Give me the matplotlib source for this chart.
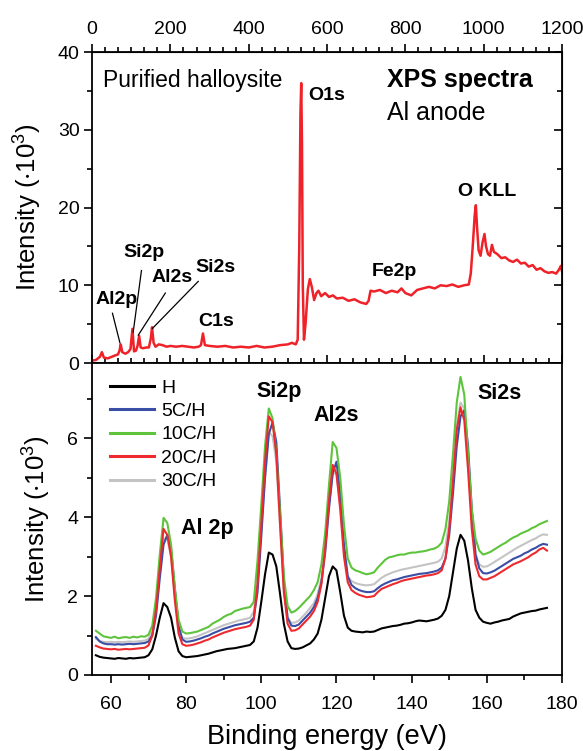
import matplotlib
matplotlib.use("Agg")
import matplotlib.pyplot as plt
import numpy as np
from matplotlib.ticker import MultipleLocator

plt.rcParams['font.family'] = ['Liberation Sans', 'DejaVu Sans']
plt.rcParams['mathtext.fontset'] = 'custom'
plt.rcParams['mathtext.rm'] = 'Liberation Sans'
plt.rcParams['mathtext.default'] = 'regular'

# survey spectrum (binding energy in eV, intensity in 10^3 counts)
survey_be = [0, 10, 20, 25, 30, 40, 50, 60, 66, 70, 73, 77, 85, 92, 98, 103, 107, 112,
             116, 120, 124, 130, 138, 145, 150, 153, 157, 162, 170, 180, 190, 200, 215,
             230, 245, 260, 272, 278, 283, 288, 300, 320, 340, 360, 380, 400, 420, 440,
             460, 480, 500, 510, 520, 525, 529, 532, 534, 536, 538, 541, 545, 551, 556,
             561, 567, 573, 578, 585, 595, 605, 615, 625, 640, 655, 670, 685, 700, 706,
             711, 720, 735, 750, 765, 780, 790, 800, 815, 830, 845, 860, 875, 890, 905,
             920, 935, 950, 962, 967, 972, 977, 980, 983, 987, 992, 997, 1002, 1006,
             1011, 1016, 1021, 1026, 1035, 1045, 1055, 1065, 1075, 1085, 1095, 1105,
             1115, 1125, 1135, 1145, 1155, 1165, 1175, 1185, 1192, 1197, 1200]
survey_int = [0.3, 0.4, 0.8, 1.4, 0.7, 0.6, 0.8, 1.0, 1.1, 1.6, 2.4, 1.4, 1.2, 1.4, 1.8, 4.4,
              1.5, 1.6, 2.2, 3.5, 2.0, 1.9, 2.0, 2.0, 3.2, 4.6, 2.6, 2.1, 2.4, 2.3, 2.1, 2.2,
              2.1, 2.2, 2.1, 2.0, 2.1, 2.3, 3.8, 2.3, 2.2, 2.1, 2.2, 2.0, 2.1, 2.0, 2.2, 2.0,
              2.1, 2.3, 2.4, 2.6, 2.4, 3.0, 15.0, 32.0, 36.0, 28.0, 10.0, 3.0, 5.0, 9.5,
              10.8, 9.8, 8.1, 9.0, 9.3, 8.6, 9.0, 8.5, 8.7, 8.3, 8.4, 8.0, 8.2, 7.8, 7.6,
              8.0, 9.3, 9.2, 9.4, 9.0, 9.3, 9.1, 9.6, 9.0, 8.7, 9.4, 9.6, 9.8, 9.6, 10.0,
              9.9, 10.1, 9.8, 10.0, 10.1, 11.5, 15.0, 19.0, 20.3, 17.5, 14.5, 13.8, 15.5,
              16.6, 15.0, 14.0, 13.8, 15.2, 14.3, 14.0, 13.5, 13.6, 13.2, 13.0, 13.3, 12.8,
              12.9, 12.4, 12.6, 12.0, 12.2, 11.8, 11.6, 11.7, 11.5, 12.0, 12.5, 11.8]

# peak labels of the survey: text, text position, end of leader line
survey_labels = ['O1s', 'O KLL', 'Fe2p', 'C1s', 'Si2s', 'Al2s', 'Si2p', 'Al2p']
survey_label_xy = [(600, 34.4), (1009, 22.1), (773, 11.8), (316, 5.3),
                   (316, 12.3), (205, 11.0), (132, 14.2), (62, 8.2)]
leader_lines = {'Al2p': ((52, 6.4), (71, 2.6)),
                'Si2p': ((126, 11.9), (105, 4.0)),
                'Al2s': ((187, 9.0), (118, 3.6)),
                'Si2s': ((271, 10.5), (154, 4.45))}

# high resolution region, 1 eV steps
hr_be = list(range(56, 177))

int_H = [0.5, 0.46, 0.44, 0.43, 0.42, 0.41, 0.43, 0.42, 0.41, 0.43, 0.42, 0.43, 0.44, 0.45,
         0.5, 0.65, 1.0, 1.45, 1.82, 1.72, 1.45, 0.95, 0.6, 0.48, 0.45, 0.46, 0.47, 0.48,
         0.5, 0.52, 0.54, 0.57, 0.6, 0.62, 0.64, 0.66, 0.67, 0.68, 0.7, 0.72, 0.74, 0.76,
         0.85, 1.2, 1.85, 2.55, 3.1, 3.05, 2.75, 2.05, 1.3, 0.85, 0.68, 0.66, 0.67, 0.7,
         0.75, 0.8, 0.9, 1.05, 1.4, 1.95, 2.5, 2.75, 2.65, 2.1, 1.5, 1.2, 1.12, 1.1, 1.09,
         1.08, 1.1, 1.09, 1.1, 1.14, 1.18, 1.2, 1.22, 1.24, 1.25, 1.27, 1.3, 1.31, 1.33,
         1.36, 1.38, 1.37, 1.36, 1.38, 1.4, 1.43, 1.5, 1.65, 2.0, 2.6, 3.2, 3.55, 3.4, 2.9,
         2.2, 1.65, 1.45, 1.35, 1.32, 1.3, 1.33, 1.35, 1.38, 1.4, 1.42, 1.48, 1.52, 1.56,
         1.58, 1.6, 1.62, 1.63, 1.66, 1.68, 1.7]
int_5C = [0.96, 0.85, 0.8, 0.78, 0.78, 0.77, 0.78, 0.77, 0.78, 0.79, 0.78, 0.79, 0.8, 0.81,
          0.85, 1.0, 1.5, 2.45, 3.3, 3.55, 3.2, 2.2, 1.25, 0.9, 0.84, 0.85, 0.87, 0.9, 0.93,
          0.97, 1.0, 1.05, 1.09, 1.13, 1.17, 1.2, 1.23, 1.26, 1.28, 1.3, 1.32, 1.35, 1.45,
          2.1, 3.5, 5.0, 6.1, 6.4, 5.9, 4.2, 2.4, 1.45, 1.25, 1.24, 1.28, 1.38, 1.48, 1.58,
          1.72, 1.95, 2.35, 3.1, 4.2, 5.1, 5.4, 4.6, 3.3, 2.5, 2.28, 2.2, 2.15, 2.12, 2.1,
          2.1, 2.12, 2.2, 2.27, 2.32, 2.36, 2.4, 2.42, 2.45, 2.48, 2.5, 2.52, 2.54, 2.56,
          2.57, 2.58, 2.6, 2.62, 2.65, 2.72, 2.95, 3.55, 4.6, 5.8, 6.55, 6.7, 5.8, 4.2, 3.05,
          2.7, 2.58, 2.57, 2.6, 2.64, 2.7, 2.76, 2.82, 2.88, 2.94, 2.98, 3.02, 3.08, 3.12,
          3.18, 3.22, 3.28, 3.32, 3.3]
int_10C = [1.12, 1.05, 0.98, 0.96, 0.94, 0.97, 0.93, 0.95, 0.96, 0.94, 0.97, 0.95, 0.98,
           0.97, 1.02, 1.25, 1.95, 3.05, 3.98, 3.85, 3.3, 2.2, 1.4, 1.1, 1.05, 1.06, 1.08,
           1.1, 1.14, 1.18, 1.22, 1.3, 1.35, 1.4, 1.47, 1.52, 1.55, 1.62, 1.65, 1.68, 1.7,
           1.72, 1.85, 2.9, 4.3, 5.8, 6.75, 6.5, 5.6, 4.1, 2.5, 1.75, 1.58, 1.62, 1.7, 1.8,
           1.9, 2.0, 2.15, 2.35, 2.8, 3.6, 4.8, 5.9, 5.75, 5.0, 3.8, 2.95, 2.72, 2.65, 2.62,
           2.58, 2.55, 2.57, 2.6, 2.72, 2.82, 2.92, 2.98, 3.0, 3.03, 3.05, 3.05, 3.08, 3.1,
           3.1, 3.12, 3.13, 3.15, 3.18, 3.2, 3.25, 3.35, 3.7, 4.4, 5.6, 6.9, 7.55, 7.1, 5.6,
           4.2, 3.45, 3.15, 3.05, 3.08, 3.12, 3.18, 3.24, 3.3, 3.35, 3.42, 3.48, 3.52, 3.58,
           3.62, 3.66, 3.72, 3.76, 3.82, 3.86, 3.9]
int_20C = [0.74, 0.7, 0.67, 0.66, 0.65, 0.66, 0.64, 0.65, 0.66, 0.65, 0.66, 0.67, 0.68,
           0.69, 0.75, 1.0, 1.65, 2.7, 3.7, 3.55, 3.0, 1.9, 1.05, 0.78, 0.74, 0.75, 0.77,
           0.8, 0.83, 0.87, 0.9, 0.95, 0.99, 1.03, 1.07, 1.1, 1.13, 1.16, 1.18, 1.2, 1.22,
           1.25, 1.4, 2.3, 3.8, 5.4, 6.55, 6.4, 5.6, 3.8, 2.1, 1.3, 1.12, 1.13, 1.18, 1.28,
           1.38, 1.48, 1.62, 1.85, 2.3, 3.2, 4.4, 5.32, 5.1, 4.2, 3.0, 2.35, 2.15, 2.08, 2.03,
           2.0, 1.97, 1.98, 2.0, 2.1, 2.18, 2.22, 2.26, 2.3, 2.33, 2.37, 2.4, 2.42, 2.44,
           2.46, 2.48, 2.5, 2.52, 2.53, 2.55, 2.58, 2.65, 2.95, 3.7, 4.9, 6.2, 6.78, 6.45, 5.2,
           3.7, 2.8, 2.5, 2.42, 2.42, 2.46, 2.5, 2.56, 2.62, 2.68, 2.74, 2.8, 2.84, 2.88,
           2.93, 2.98, 3.05, 3.1, 3.18, 3.22, 3.15]
int_30C = [0.92, 0.86, 0.84, 0.83, 0.84, 0.83, 0.84, 0.83, 0.84, 0.85, 0.84, 0.85, 0.86,
           0.87, 0.92, 1.1, 1.7, 2.65, 3.45, 3.45, 3.0, 2.0, 1.15, 0.94, 0.92, 0.93, 0.95,
           0.98, 1.02, 1.06, 1.1, 1.14, 1.18, 1.22, 1.26, 1.29, 1.32, 1.35, 1.38, 1.4, 1.42,
           1.45, 1.6, 2.4, 3.7, 5.0, 6.15, 6.05, 5.4, 3.8, 2.2, 1.45, 1.32, 1.33, 1.38, 1.48,
           1.58, 1.7, 1.82, 2.05, 2.45, 3.2, 4.3, 5.1, 5.1, 4.3, 3.1, 2.5, 2.38, 2.33, 2.3,
           2.28, 2.27, 2.28, 2.3, 2.38, 2.46, 2.52, 2.56, 2.6, 2.63, 2.66, 2.68, 2.7, 2.72,
           2.74, 2.76, 2.78, 2.8, 2.82, 2.84, 2.87, 2.95, 3.25, 3.9, 5.0, 6.3, 6.9, 6.75, 5.5,
           3.95, 3.05, 2.8, 2.74, 2.75, 2.8, 2.86, 2.92, 2.98, 3.04, 3.1, 3.16, 3.22, 3.27,
           3.32, 3.37, 3.42, 3.46, 3.52, 3.56, 3.55]

series_names = ['H', '5C/H', '10C/H', '20C/H', '30C/H']
series_colors = ['black', '#3b4ea6', '#5dc43c', '#ee2a2e', '#c4c4c4']
series_data = [int_H, int_5C, int_10C, int_20C, int_30C]

hr_labels = ['Al 2p', 'Si2p', 'Al2s', 'Si2s']
hr_label_xy = [(85.6, 3.72), (104.7, 7.17), (120.0, 6.58), (163.5, 7.14)]

fig = plt.figure(figsize=(5.83, 7.51), dpi=100)
ax1 = fig.add_axes([0.158, 0.5166, 0.806, 0.4141])
ax2 = fig.add_axes([0.158, 0.1012, 0.806, 0.4154])

for ax in (ax1, ax2):
    for sp in ax.spines.values():
        sp.set_linewidth(1.3)

# --- survey panel ---
ax1.plot(survey_be, survey_int, color='#ee2228', lw=1.8)
ax1.set_xlim(0, 1200)
ax1.set_ylim(0, 40)
ax1.set_xticks(np.arange(0, 1201, 200))
ax1.xaxis.set_minor_locator(MultipleLocator(200 / 6))
ax1.set_yticks(np.arange(0, 41, 10))
ax1.yaxis.set_minor_locator(MultipleLocator(5))
ax1.tick_params(axis='x', which='both', direction='in', labelbottom=False, width=1.2)
ax1.tick_params(axis='x', which='major', length=6)
ax1.tick_params(axis='x', which='minor', length=3.5)
ax1.tick_params(axis='y', which='both', direction='out', labelsize=14, width=1.2, pad=3)
ax1.tick_params(axis='y', which='major', length=6)
ax1.tick_params(axis='y', which='minor', length=3.5)

top = ax1.secondary_xaxis('top')
top.set_xticks(np.arange(0, 1201, 200))
top.xaxis.set_minor_locator(MultipleLocator(200 / 6))
top.tick_params(which='both', direction='out', labelsize=14, width=1.2, pad=4)
top.tick_params(which='major', length=6)
top.tick_params(which='minor', length=3.5)

right = ax1.secondary_yaxis('right')
right.set_yticks(np.arange(0, 41, 10))
right.yaxis.set_minor_locator(MultipleLocator(5))
right.tick_params(which='both', direction='in', labelright=False, width=1.2)
right.tick_params(which='major', length=6)
right.tick_params(which='minor', length=3.5)

ax1.set_ylabel(r'Intensity ($\cdot$10$^3$)', fontsize=18.5, labelpad=10)

ax1.text(28, 36.4, 'Purified halloysite', fontsize=16.5, va='center', ha='left')
ax1.text(753, 36.4, 'XPS spectra', fontsize=18, fontweight='bold', va='center', ha='left')
ax1.text(753, 32.2, 'Al anode', fontsize=18, va='center', ha='left')

for lab, (lx, ly) in zip(survey_labels, survey_label_xy):
    ax1.text(lx, ly, lab, fontsize=14, fontweight='bold', ha='center', va='center')
for lab, ((x0, y0), (x1, y1)) in leader_lines.items():
    ax1.plot([x0, x1], [y0, y1], color='black', lw=0.9)

# --- high resolution panel ---
order = [4, 0, 1, 2, 3]
handles = {}
for i in order:
    line, = ax2.plot(hr_be, series_data[i], color=series_colors[i], lw=1.5,
                     label=series_names[i])
    handles[i] = line

ax2.set_xlim(55, 180)
ax2.set_ylim(0, 7.9)
ax2.set_xticks(np.arange(60, 181, 20))
ax2.xaxis.set_minor_locator(MultipleLocator(10))
ax2.set_yticks(np.arange(0, 7, 2))
ax2.yaxis.set_minor_locator(MultipleLocator(1))
ax2.tick_params(which='both', direction='out', labelsize=14, width=1.2)
ax2.tick_params(axis='x', pad=9)
ax2.tick_params(axis='y', pad=4)
ax2.tick_params(which='major', length=6)
ax2.tick_params(which='minor', length=3.5)

ax2.set_ylabel(r'Intensity ($\cdot$10$^3$)', fontsize=18.5, labelpad=10)
ax2.set_xlabel('Binding energy (eV)', fontsize=19.5, labelpad=8)

for lab, (lx, ly) in zip(hr_labels, hr_label_xy):
    ax2.text(lx, ly, lab, fontsize=15.5, fontweight='bold', ha='center', va='center')

leg = ax2.legend([handles[i] for i in range(5)], series_names, loc='upper left',
                 bbox_to_anchor=(0.0, 1.005), frameon=False, fontsize=14,
                 handlelength=2.3, handletextpad=0.35, labelspacing=0.3)
for lh in leg.get_lines():
    lh.set_linewidth(2.2)

fig.savefig('out.png', dpi=100)
